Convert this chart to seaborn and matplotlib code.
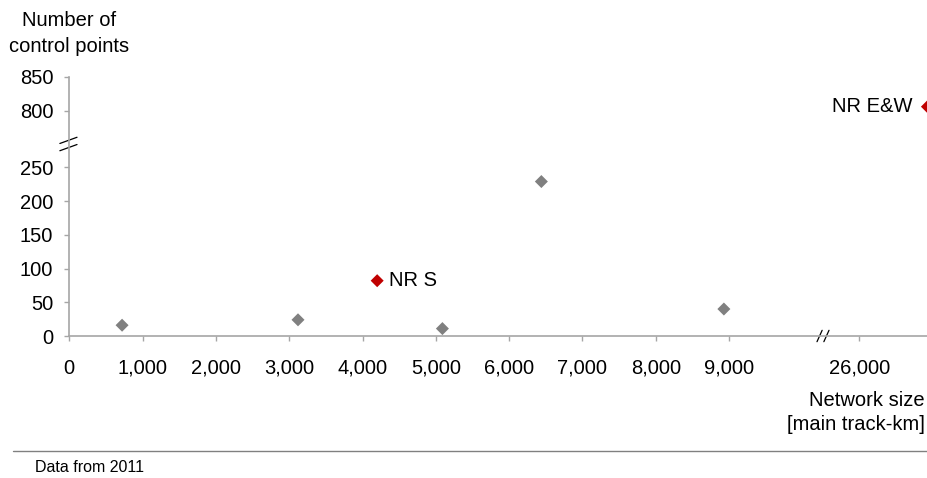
import numpy as np
import pandas as pd
import matplotlib
matplotlib.use("Agg")
import matplotlib.pyplot as plt
import seaborn as sns

# network size [main track-km] vs number of control points
network_km = [720, 3120, 4200, 5090, 6440, 8930, 26930]
control_points = [16, 24, 82, 11, 229, 40, 806]
labels = ["", "", "NR S", "", "", "", "NR E&W"]
highlight = [False, False, True, False, False, False, True]

x_ticks = [0, 1000, 2000, 3000, 4000, 5000, 6000, 7000, 8000, 9000, 26000]
y_ticks = [0, 50, 100, 150, 200, 250, 800, 850]

df = pd.DataFrame({"km": network_km, "cp": control_points,
                   "label": labels, "nr": highlight})

sns.set_style("white")
plt.rcParams["font.family"] = ["Liberation Sans", "DejaVu Sans"]
plt.rcParams["text.color"] = "black"

AXIS = "#a6a6a6"
GREY = "#808080"
RED = "#c00000"
FS = 14.5

# broken axes as piecewise-linear scales
X_CUT, X_OFF = 10280, 15223
Y_CUT, Y_OFF = 283, 466


def x_fwd(v):
    v = np.asarray(v, dtype=float)
    return np.where(v > X_CUT, v - X_OFF, v)


def x_inv(u):
    u = np.asarray(u, dtype=float)
    return np.where(u > X_CUT, u + X_OFF, u)


def y_fwd(v):
    v = np.asarray(v, dtype=float)
    return np.where(v > Y_CUT, v - Y_OFF, v)


def y_inv(u):
    u = np.asarray(u, dtype=float)
    return np.where(u > Y_CUT, u + Y_OFF, u)


fig = plt.figure(figsize=(9.27, 4.78), dpi=100)
ax = fig.add_axes([69.3 / 927, 142 / 478, 1 - 69.3 / 927, (336 - 77) / 478])
ax.set_xscale("function", functions=(x_fwd, x_inv))
ax.set_yscale("function", functions=(y_fwd, y_inv))

sns.scatterplot(data=df, x="km", y="cp", hue="nr",
                palette={False: GREY, True: RED}, marker="D", s=44,
                linewidth=0, legend=False, ax=ax)

ax.set_xlim(0, 26924)
ax.set_ylim(0, 850)
ax.set_xlabel("")
ax.set_ylabel("")

for _, r in df.iterrows():
    if r["label"] == "NR S":
        ax.annotate(r["label"], (r["km"], r["cp"]), xytext=(8.3, 0),
                    textcoords="offset points", ha="left", va="center",
                    fontsize=FS)
    elif r["label"]:
        ax.annotate(r["label"], (r["km"], r["cp"]), xytext=(-10.5, 0),
                    textcoords="offset points", ha="right", va="center",
                    fontsize=FS)

ax.set_xticks(x_ticks)
ax.set_xticklabels([f"{t:,}" for t in x_ticks])
ax.set_yticks(y_ticks)
ax.set_yticklabels([str(t) for t in y_ticks])
ax.tick_params(axis="both", direction="out", length=3.5, width=1, color=AXIS,
               labelsize=FS, labelcolor="black", bottom=True, left=True)
ax.tick_params(axis="x", pad=13)
ax.tick_params(axis="y", pad=8)

for side in ["top", "right"]:
    ax.spines[side].set_visible(False)
for side in ["left", "bottom"]:
    ax.spines[side].set_color(AXIS)
    ax.spines[side].set_linewidth(1.2)

# break marks
xb = (823 - 69.3) / (927 - 69.3)
for dx in (-0.004, 0.004):
    ax.plot([xb + dx - 0.003, xb + dx + 0.003], [-0.022, 0.022],
            transform=ax.transAxes, color="black", lw=0.9, clip_on=False)
yb = (336 - 144) / (336 - 77)
ax.plot([0, 0], [yb - 0.01, yb + 0.01], transform=ax.transAxes,
        color="white", lw=4, clip_on=False, solid_capstyle="butt")
for dy in (-0.014, 0.014):
    ax.plot([-0.011, 0.009], [yb + dy - 0.012, yb + dy + 0.012],
            transform=ax.transAxes, color="black", lw=0.9, clip_on=False)

fig.text(69 / 927, 1 - 33.5 / 478, "Number of\ncontrol points", ha="center",
         va="center", fontsize=FS, linespacing=1.4)
fig.text(925 / 927, 1 - 412.5 / 478, "Network size\n[main track-km]",
         ha="right", va="center", fontsize=FS, linespacing=1.4)

fig.add_artist(plt.Line2D([13 / 927, 1], [1 - 451 / 478, 1 - 451 / 478],
                          color=GREY, lw=1, transform=fig.transFigure))
fig.text(35 / 927, 1 - 468 / 478, "Data from 2011", ha="left", va="center",
         fontsize=11.5)

fig.savefig("out.png", dpi=100)
